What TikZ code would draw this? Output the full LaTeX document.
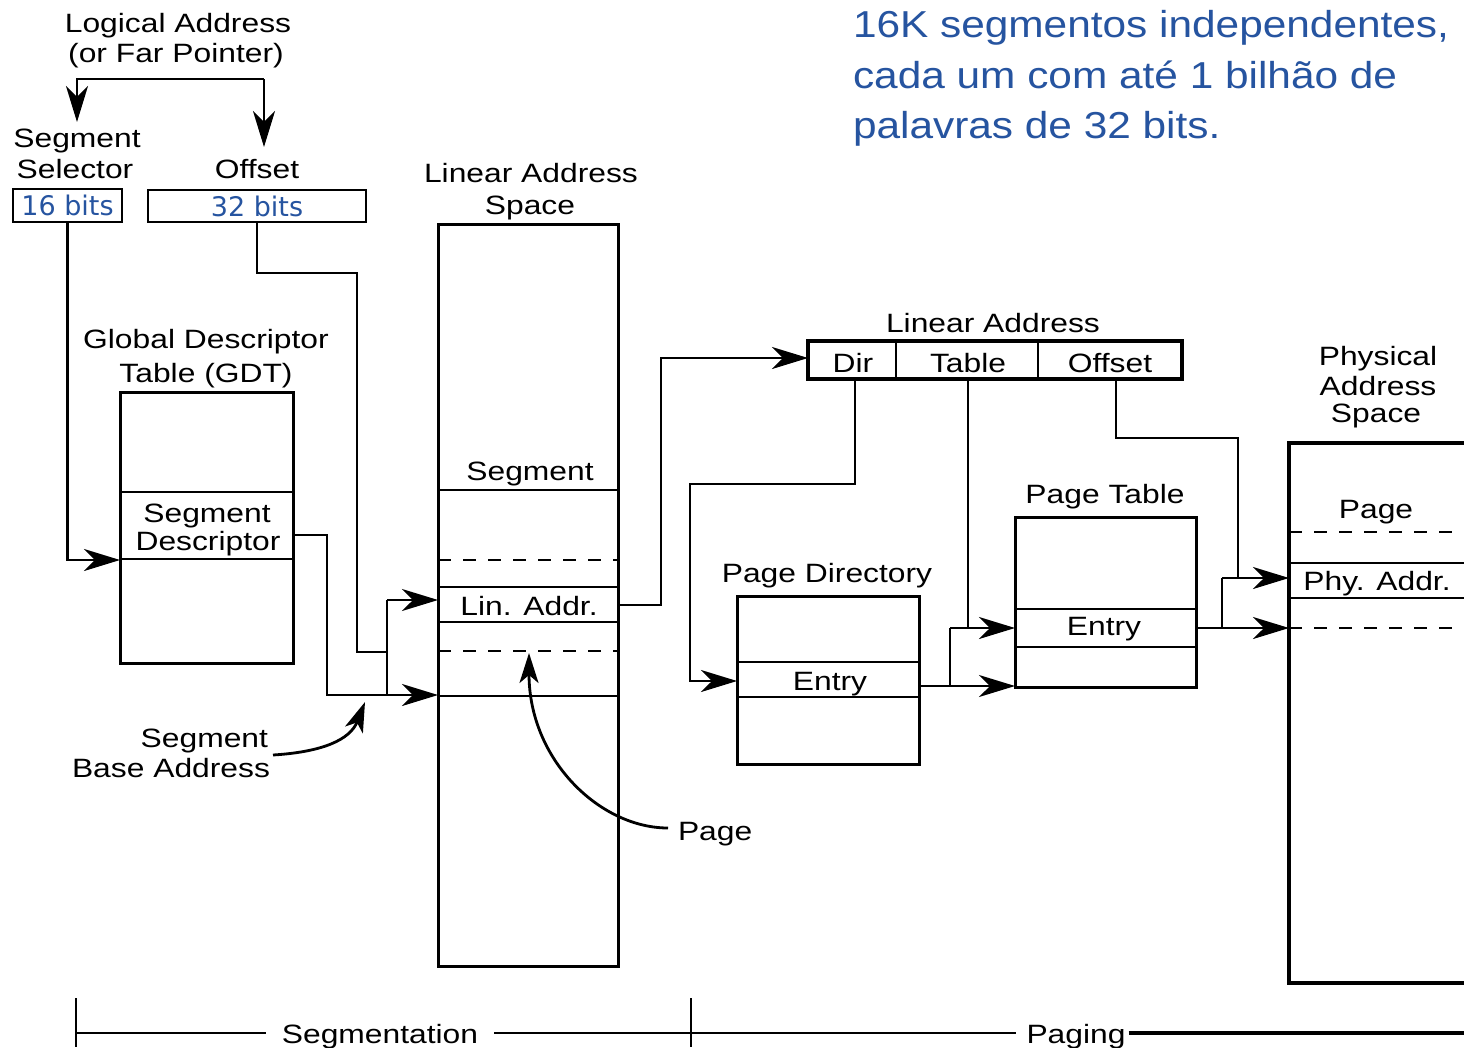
\documentclass[tikz,border=0pt]{standalone}
\usepackage{fontspec}
\setmainfont{Liberation Sans}[FakeStretch=1.2]
\newfontfamily\bitsfont{DejaVu Sans}
\newfontfamily\notefont{Liberation Sans}[FakeStretch=1.13]
\usetikzlibrary{arrows.meta}
\definecolor{noteblue}{RGB}{38,84,160}
\begin{document}
\begin{tikzpicture}[x=1pt,y=-1pt,
  every node/.style={inner sep=0pt, outer sep=0pt},
  lbl/.style={font=\fontsize{26.5}{30}\selectfont, anchor=base},
  box/.style={draw, line width=3pt},
  conn/.style={line width=2.8pt},
  thinconn/.style={line width=1.8pt},
  arr/.style={conn, -{Stealth[length=36pt,width=22pt,inset=11pt]}},
  arrthin/.style={thinconn, -{Stealth[length=36pt,width=22pt,inset=11pt]}},
  curvearr/.style={line width=2.8pt, -{Stealth[length=30pt,width=19pt,inset=8pt]}},
  sepline/.style={line width=2.8pt},
  thinsep/.style={line width=1.8pt},
  dsh/.style={line width=2.8pt, dash pattern=on 13pt off 12pt},
  bits/.style={font=\bitsfont\fontsize{27}{30}\selectfont, text=noteblue},
  note/.style={font=\notefont\fontsize{37.5}{45}\selectfont, text=noteblue, anchor=base west},
]
\fill[white] (0,0) rectangle (1464,1047);
\clip (0,0) rectangle (1464,1047);

% ---------- note ----------
\node[note] (n1) at (853,37) {16K segmentos independentes,};
\node[note] (n2) at (853,88) {cada um com até 1 bilhão de};
\node[note] (n3) at (853,138) {palavras de 32 bits.};

% ---------- logical address ----------
\node[lbl] (la1) at (178,32) {Logical Address};
\node[lbl] (la2) at (176,62) {(or Far Pointer)};
\node[lbl] (ss1) at (77,147) {Segment};
\node[lbl] (ss2) at (75,178) {Selector};
\node[lbl] (ofl) at (257,178) {Offset};
\node[box, line width=2.6pt, minimum width=109pt, minimum height=33pt, bits] (sel) at (67.5,205.5) {16 bits};
\node[box, line width=2.6pt, minimum width=218pt, minimum height=32pt, bits] (off) at (257,206) {32 bits};

\coordinate (brL) at (77,79);
\coordinate (brR) at (264,79);
\coordinate (selTip) at (77,122);
\coordinate (offTip) at (264,147);
\draw[arr] (brR) -- (brL) -- (selTip);
\draw[arr] (brR) -- (offTip);

% ---------- GDT ----------
\node[lbl] (g1) at (206,348) {Global Descriptor};
\node[lbl] (g2) at (206,382) {Table (GDT)};
\node[box, minimum width=173pt, minimum height=271pt] (gdt) at (206.5,527.5) {};
\draw[sepline] (gdt.west |- 0,492) -- (gdt.east |- 0,492);
\draw[sepline] (gdt.west |- 0,559) -- (gdt.east |- 0,559);
\node[lbl] (sd1) at (207,522) {Segment};
\node[lbl] (sd2) at (208,550) {Descriptor};

% ---------- Linear address space ----------
\node[lbl] (ls1) at (531,182) {Linear Address};
\node[lbl] (ls2) at (530,214) {Space};
\node[box, minimum width=180pt, minimum height=742pt] (las) at (528,595) {};
\draw[sepline] (las.west |- 0,490) -- (las.east |- 0,490);
\draw[dsh] (las.west |- 0,560) -- (las.east |- 0,560);
\draw[sepline] (las.west |- 0,587) -- (las.east |- 0,587);
\draw[sepline] (las.west |- 0,622) -- (las.east |- 0,622);
\draw[dsh] (las.west |- 0,651) -- (las.east |- 0,651);
\draw[sepline] (las.west |- 0,696) -- (las.east |- 0,696);
\node[lbl] (lsseg) at (530,480) {Segment};
\node[lbl] (lsla) at (529,615) {Lin. Addr.};

% ---------- segmentation connectors ----------
\draw[arr] (sel.south) |- (gdt.west |- 0,560);
\coordinate (oA) at (357,273);
\coordinate (oB) at (357,652);
\coordinate (jx) at (387,652);
\coordinate (jTop) at (387,600);
\coordinate (jBot) at (387,695);
\coordinate (dA) at (327,535);
\coordinate (dB) at (327,695);
\draw[conn] (off.south) |- (oA) -- (oB) -- (jx);
\draw[thinconn] (jBot) -- (jTop);
\draw[arrthin] (jTop) -- (las.west |- jTop);
\draw[arr] (gdt.east |- dA) -- (dA) -- (dB) -- (las.west |- dB);

% segment base address
\node[lbl, anchor=base east] (sb1) at (268,747) {Segment};
\node[lbl, anchor=base east] (sb2) at (270,777) {Base Address};
\coordinate (sbS) at (273,755);
\coordinate (sbT) at (365,702);
\draw[curvearr] (sbS) .. controls (322,752) and (350,740) .. (sbT);

% page curve
\node[lbl, anchor=base west] (pglbl) at (678,840) {Page};
\coordinate (pgS) at (668,828);
\coordinate (pgT) at (529,653);
\draw[curvearr] (pgS) .. controls (600,828) and (529,760) .. (pgT);

% ---------- Linear address (paging) ----------
\node[lbl] (lal) at (993,332) {Linear Address};
\node[box, minimum width=374pt, minimum height=38pt, line width=3.6pt] (lin) at (995,360) {};
\draw[sepline] (lin.north -| 896,0) -- (lin.south -| 896,0);
\draw[sepline] (lin.north -| 1038,0) -- (lin.south -| 1038,0);
\node[lbl] (fdir) at (853,372) {Dir};
\node[lbl] (ftab) at (968,372) {Table};
\node[lbl] (foff) at (1110,372) {Offset};

\coordinate (lA) at (661,358);
\draw[arr] (las.east |- 0,605) -| (lA) -- (lin.west |- lA);

% ---------- Page directory ----------
\node[lbl] (pdl) at (827,582) {Page Directory};
\node[box, minimum width=182pt, minimum height=168pt] (pd) at (828,680) {};
\draw[thinsep] (pd.west |- 0,662) -- (pd.east |- 0,662);
\draw[sepline] (pd.west |- 0,697) -- (pd.east |- 0,697);
\node[lbl] (pde) at (830,690) {Entry};

\coordinate (drA) at (855,484);
\coordinate (drB) at (690,484);
\draw[arr] (lin.south -| drA) -- (drA) -- (drB) |- (pd.west |- 0,681);

% ---------- Page table ----------
\node[lbl] (ptl) at (1105,503) {Page Table};
\node[box, minimum width=181pt, minimum height=170pt] (pt) at (1105.5,602) {};
\draw[sepline] (pt.west |- 0,609) -- (pt.east |- 0,609);
\draw[sepline] (pt.west |- 0,647) -- (pt.east |- 0,647);
\node[lbl] (pte) at (1104,635) {Entry};

\coordinate (tA) at (968,628);
\coordinate (pjT) at (950,628);
\coordinate (pjB) at (950,686);
\draw[conn] (lin.south -| tA) -- (tA);
\draw[arrthin] (pd.east |- pjB) -- (pt.west |- pjB);
\draw[thinconn] (pjB) -- (pjT);
\draw[arr] (pjT) -- (pt.west |- pjT);

% ---------- Physical address space ----------
\node[lbl] (ph1) at (1378,365) {Physical};
\node[lbl] (ph2) at (1378,395) {Address};
\node[lbl] (ph3) at (1376,422) {Space};
\node[box, minimum width=260pt, minimum height=540pt, line width=3.6pt] (phys) at (1419,713) {};
\draw[dsh] (phys.west |- 0,532) -- (phys.east |- 0,532);
\draw[sepline] (phys.west |- 0,563) -- (phys.east |- 0,563);
\draw[sepline] (phys.west |- 0,598) -- (phys.east |- 0,598);
\draw[dsh] (phys.west |- 0,628) -- (phys.east |- 0,628);
\node[lbl] (phpg) at (1376,518) {Page};
\node[lbl] (phpa) at (1377,590) {Phy. Addr.};

\coordinate (qT) at (1222,578);
\coordinate (qB) at (1222,628);
\coordinate (oo1) at (1116,438);
\coordinate (oo2) at (1238,438);
\coordinate (oo3) at (1238,578);
\draw[arr] (pt.east |- qB) -- (phys.west |- qB);
\draw[conn] (qB) -- (qT);
\draw[arr] (qT) -- (phys.west |- qT);
\draw[conn] (lin.south -| oo1) -- (oo1) -- (oo2) -- (oo3);

% ---------- bottom scale ----------
\coordinate (tk1T) at (76,998);
\coordinate (tk1B) at (76,1047);
\coordinate (tk2T) at (691,998);
\coordinate (tk2B) at (691,1047);
\coordinate (hl) at (76,1033);
\coordinate (hr) at (1464,1033);
\draw[line width=2.4pt] (tk1T) -- (tk1B);
\draw[line width=2.4pt] (tk2T) -- (tk2B);
\node[lbl, inner xsep=16pt] (segtxt) at (380,1043) {Segmentation};
\node[lbl, inner xsep=3pt] (pagtxt) at (1076,1043) {Paging};
\draw[line width=2.6pt] (hl) -- (segtxt.west |- hl);
\draw[line width=1.8pt] (segtxt.east |- hl) -- ([xshift=-8pt]pagtxt.west |- hl);
\draw[line width=3.4pt] (pagtxt.east |- hl) -- (hr);
\end{tikzpicture}
\end{document}
